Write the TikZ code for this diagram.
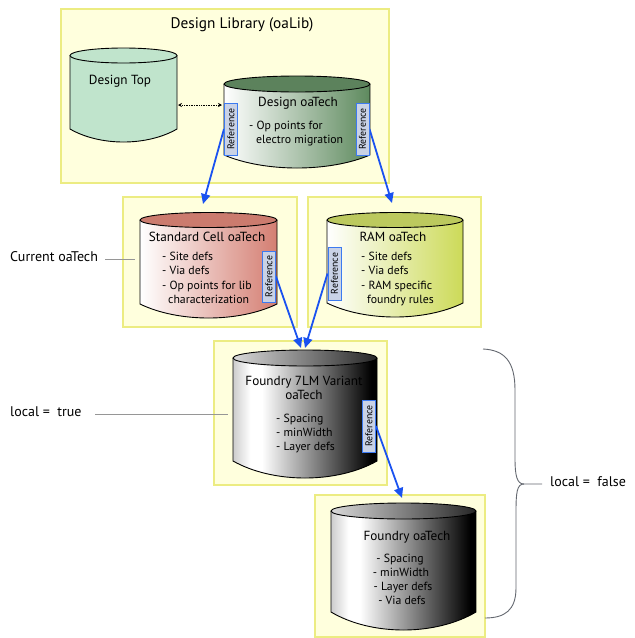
\documentclass[tikz,border=0pt]{standalone}
\usepackage{fontspec}
\setmainfont{PT Sans}
\usetikzlibrary{arrows.meta}
\definecolor{boxfill}{RGB}{255,255,221}
\definecolor{boxline}{RGB}{236,236,130}
\definecolor{mint}{RGB}{192,228,204}
\definecolor{dgreen}{RGB}{94,138,94}
\definecolor{dgreentop}{RGB}{92,130,92}
\definecolor{salmon}{RGB}{212,126,114}
\definecolor{salmontop}{RGB}{203,123,110}
\definecolor{lime}{RGB}{204,218,88}
\definecolor{limetop}{RGB}{188,201,94}
\definecolor{refblue}{RGB}{60,122,240}
\definecolor{reffill}{RGB}{201,210,230}
\definecolor{arrowblue}{RGB}{26,82,240}
\definecolor{annot}{RGB}{150,150,150}
\definecolor{bracec}{RGB}{100,104,112}
\pgfdeclarehorizontalshading{foundryside}{100bp}{color(0bp)=(black!20); color(25bp)=(black!20); color(31bp)=(white); color(35bp)=(white); color(73bp)=(black); color(75bp)=(black); color(100bp)=(black)}
\newcommand\mycyl[8]{%
  \pgfmathsetmacro\cylw{#2-#1}%
  \pgfmathsetmacro\cylc{(4*#6-#5)/3}%
  \pgfmathsetmacro\cylm{(#1+#2)/2}%
  \pgfmathsetmacro\cylrx{(#2-#1)/2}%
  \path[#7] (#1,#3) -- (#1,#5) .. controls ({#1+0.28*\cylw},\cylc) and ({#2-0.28*\cylw},\cylc) .. (#2,#5) -- (#2,#3) -- cycle;
  \draw[cylline] (#1,#3) -- (#1,#5) .. controls ({#1+0.28*\cylw},\cylc) and ({#2-0.28*\cylw},\cylc) .. (#2,#5) -- (#2,#3);
  \draw[cylline,#8] (\cylm,#3) ellipse [x radius=\cylrx, y radius=#4];
}
\begin{document}
\begin{tikzpicture}[x=1pt,y=-1pt,
  ybox/.style={draw=boxline, fill=boxfill, line width=1.3pt, inner sep=0},
  cylline/.style={draw=black, line width=0.9pt},
  refbox/.style={draw=refblue, fill=reffill, line width=1pt, inner sep=0, minimum height=13pt, rotate=90, font=\fontsize{9.8}{11}\selectfont},
  libtitle/.style={font=\fontsize{15.3}{17}\selectfont},
  cyltitle/.style={font=\fontsize{13.2}{15}\selectfont, anchor=mid},
  item/.style={font=\fontsize{11.8}{13}\selectfont, anchor=mid west, inner sep=0},
  citem/.style={font=\fontsize{11.8}{13}\selectfont, anchor=mid, inner sep=0},
  lbl/.style={font=\fontsize{14}{16}\selectfont, anchor=mid west, inner sep=0},
  blue arrow/.style={draw=arrowblue, line width=1.8pt, -{Triangle[length=10pt,width=9pt]}},
  dotarrow/.style={draw=black, line width=0.7pt, densely dotted, {Stealth[length=4pt,width=4pt]}-{Stealth[length=4pt,width=4pt]}},
  annotline/.style={draw=annot, line width=1pt},
  bracestyle/.style={draw=bracec, line width=0.9pt}
]
\fill[white] (0,0) rectangle (635,638);
\useasboundingbox (0,0) rectangle (635,638);

% container boxes
\node[ybox, minimum width=328pt, minimum height=174pt] (lib) at (225,96) {};
\node[ybox, minimum width=174pt, minimum height=130pt] (scbox) at (210,262) {};
\node[ybox, minimum width=173pt, minimum height=130pt] (rambox) at (394.5,262) {};
\node[ybox, minimum width=173pt, minimum height=144pt] (f7box) at (300.5,413) {};
\node[ybox, minimum width=170pt, minimum height=142pt] (fobox) at (400,566) {};

% cylinders
\mycyl{70}{177}{55.5}{7.5}{129}{142}{fill=mint}{fill=mint}
\mycyl{224}{370}{84}{8}{155}{168}{left color=white,right color=dgreen}{fill=dgreentop}
\mycyl{140}{277}{220}{7.5}{304}{318}{left color=white,right color=salmon}{fill=salmontop}
\mycyl{327}{463}{220}{7.5}{303}{317}{left color=white,right color=lime}{fill=limetop}
\mycyl{233}{377}{358}{8}{461}{478}{shading=foundryside}{left color=black!15,right color=black!85}
\mycyl{331}{476}{511}{8}{612}{630}{shading=foundryside}{left color=black!15,right color=black!85}

% titles and texts
\node[libtitle] (libt) at (242,25) {Design Library (oaLib)};
\node[cyltitle] (dtt) at (120,82) {Design Top};
\node[cyltitle] (dot) at (298,104) {Design oaTech};
\node[item] (do1) at (249,127) {- Op points for};
\node[item] (do2) at (256,141) {electro migration};

\node[cyltitle] (sct) at (207,239) {Standard Cell oaTech};
\node[item] (sc1) at (162,258) {- Site defs};
\node[item] (sc2) at (162,272) {- Via defs};
\node[item] (sc3) at (162,287) {- Op points for lib};
\node[item] (sc4) at (168,301) {characterization};

\node[cyltitle] (ramt) at (393,239) {RAM oaTech};
\node[item] (ram1) at (361,258) {- Site defs};
\node[item] (ram2) at (361,272) {- Via defs};
\node[item] (ram3) at (361,287) {- RAM specific};
\node[item] (ram4) at (367,301) {foundry rules};

\node[cyltitle] (f7t1) at (304,383) {Foundry 7LM Variant};
\node[cyltitle] (f7t2) at (304,397) {oaTech};
\node[item] (f71) at (276,420) {- Spacing};
\node[item] (f72) at (276,434) {- minWidth};
\node[item] (f73) at (276,448) {- Layer defs};

\node[cyltitle] (fot) at (407,538) {Foundry oaTech};
\node[citem] (fo1) at (400,560) {- Spacing};
\node[citem] (fo2) at (401,574) {- minWidth};
\node[citem] (fo3) at (403,588) {- Layer defs};
\node[citem] (fo4) at (402,602) {- Via defs};

% reference boxes
\path (231,129) node[refbox, minimum width=52pt] (rdol) {Reference};
\path (362.5,129) node[refbox, minimum width=52pt] (rdor) {Reference};
\path (269,276.5) node[refbox, minimum width=51pt] (rsc) {Reference};
\path (334.5,273.5) node[refbox, minimum width=53pt] (rram) {Reference};
\path (369,426) node[refbox, minimum width=52pt] (rf7) {Reference};

% arrow end coordinates
\coordinate (tsc) at (203,204);
\coordinate (tram) at (392,203);
\coordinate (tf7a) at (301,348);
\coordinate (tf7b) at (305,348);
\coordinate (tfo) at (402,498);
\coordinate (dtE) at (178,105);
\coordinate (doW) at (222,105);

\draw[blue arrow] (rdol.north) -- (tsc);
\draw[blue arrow] (rdor.south) -- (tram);
\draw[blue arrow] (rsc.south) -- (tf7a);
\draw[blue arrow] (rram.north) -- (tf7b);
\draw[blue arrow] (rf7.south) -- (tfo);
% reference boxes again, over the arrow starts
\path (231,129) node[refbox, minimum width=52pt] {Reference};
\path (362.5,129) node[refbox, minimum width=52pt] {Reference};
\path (269,276.5) node[refbox, minimum width=51pt] {Reference};
\path (334.5,273.5) node[refbox, minimum width=53pt] {Reference};
\path (369,426) node[refbox, minimum width=52pt] {Reference};

\draw[dotarrow] (dtE) -- (doW);

% annotations
\node[lbl] (lcur) at (10,259) {Current oaTech};
\coordinate (lcurA) at (105,259);
\coordinate (lcurB) at (135,259);
\draw[annotline] (lcurA) -- (lcurB);
\node[lbl] (ltrue) at (10,414) {local =\ \ true};
\coordinate (ltrueA) at (95,414);
\coordinate (ltrueB) at (228,414);
\draw[annotline] (ltrueA) -- (ltrueB);
\node[lbl] (lfalse) at (550,484) {local =\ \ false};
\coordinate (btop) at (483,349);
\coordinate (btip) at (524,484);
\coordinate (bbot) at (485,618);
\coordinate (bend) at (542,484);
\draw[bracestyle] (btop) .. controls (505,350) and (515,362) .. (515,390) -- (515,458)
   .. controls (515,476) and (517,484) .. (btip) -- (bend);
\draw[bracestyle] (btip) .. controls (517,484) and (516,492) .. (516,512) -- (516,588)
   .. controls (516,610) and (505,618) .. (bbot);
\end{tikzpicture}
\end{document}
